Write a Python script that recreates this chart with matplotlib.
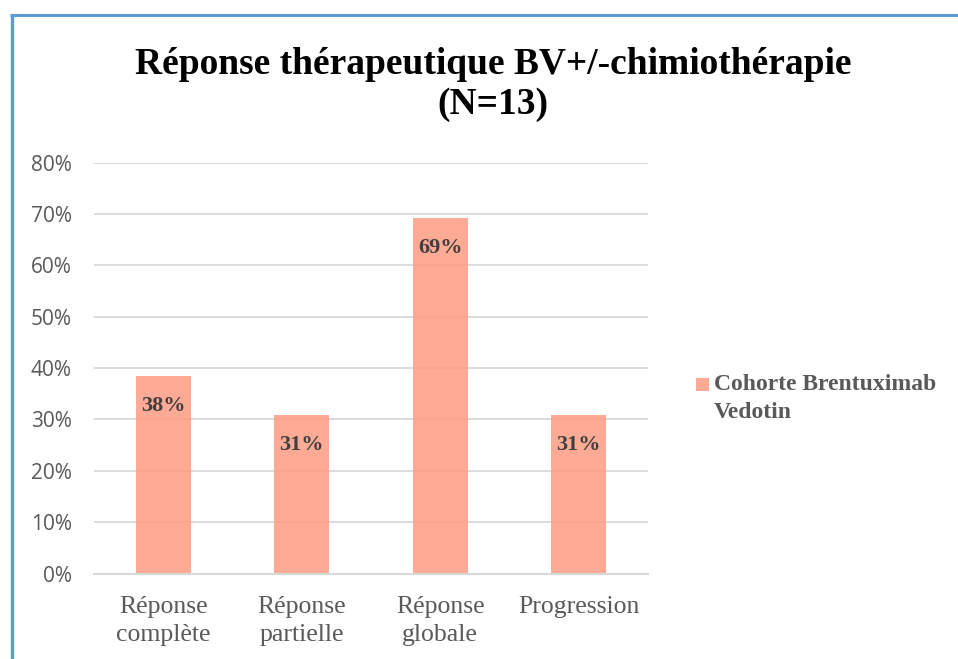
import matplotlib
matplotlib.use("Agg")
import matplotlib.pyplot as plt
from matplotlib.lines import Line2D
from matplotlib.patches import Rectangle

# Response categories and proportion of patients (N=13)
categories = ["Réponse\ncomplète", "Réponse\npartielle", "Réponse\nglobale", "Progression"]
values = [38.46, 30.77, 69.23, 30.77]
series_name = "Cohorte Brentuximab\nVedotin"
title = "Réponse thérapeutique BV+/-chimiothérapie\n(N=13)"
y_ticks = [0, 10, 20, 30, 40, 50, 60, 70, 80]

W, H = 958, 659
fig = plt.figure(figsize=(W / 100, H / 100), dpi=100)
fig.patch.set_facecolor("white")

ax = fig.add_axes([94 / W, 1 - 573.5 / H, (648 - 94) / W, (573.5 - 162.7) / H])
ax.set_facecolor("white")

serif = ["Liberation Serif", "DejaVu Serif"]
sans = ["Open Sans", "DejaVu Sans"]
grey = "#595959"
bar_color = "#FF9E86"
bar_alpha = 0.88

x = list(range(len(categories)))
bars = ax.bar(x, values, width=0.40, color=bar_color, alpha=bar_alpha,
              label=series_name, zorder=2)

ax.set_xlim(-0.5, len(categories) - 0.5)
ax.set_ylim(0, 80)
ax.set_yticks(y_ticks)
ax.set_yticklabels([f"{t}%" for t in y_ticks], fontfamily=sans, fontsize=15, color=grey)
ax.set_xticks(x)
ax.set_xticklabels(categories, fontfamily=serif, fontsize=18.5, color=grey, linespacing=1.35)
ax.tick_params(axis="both", length=0)
ax.tick_params(axis="y", pad=16)
ax.tick_params(axis="x", pad=16)

ax.grid(axis="y", color="#D9D9D9", linewidth=1.3, zorder=1)
ax.set_axisbelow(True)
for side in ["top", "right", "left"]:
    ax.spines[side].set_visible(False)
ax.spines["bottom"].set_color("#D9D9D9")
ax.spines["bottom"].set_linewidth(1.5)

# value labels inside the bars
for rect, v in zip(bars, values):
    ax.annotate(f"{round(v)}%", (rect.get_x() + rect.get_width() / 2, v),
                xytext=(0, -21.5), textcoords="offset points",
                ha="center", va="center", fontfamily=serif, fontweight="bold",
                fontsize=16, color="#404040", zorder=3)

fig.text(493 / W, 1 - 84.5 / H, title, ha="center", va="center",
         multialignment="center", fontfamily=serif, fontweight="bold",
         fontsize=27, color="black", linespacing=1.18)

# series key on the right
fig.add_artist(Rectangle((696 / W, 1 - 391 / H), 13 / W, 13 / H,
                         facecolor=bar_color, alpha=bar_alpha, edgecolor="none",
                         transform=fig.transFigure))
fig.text(714 / W, 1 - 398.5 / H, series_name, ha="left", va="center",
         fontfamily=serif, fontweight="bold", fontsize=17, color=grey,
         linespacing=1.5)

# frame border on the left and top edges
blue = "#5B9BD5"
fig.add_artist(Line2D([11.7 / W, 11.7 / W], [0, 1 - 14 / H], color=blue,
                      linewidth=2.4, solid_capstyle="butt", transform=fig.transFigure))
fig.add_artist(Line2D([10 / W, 1], [1 - 15.3 / H, 1 - 15.3 / H], color=blue,
                      linewidth=2.2, solid_capstyle="butt", transform=fig.transFigure))

fig.savefig("out.png", dpi=100, facecolor="white")
